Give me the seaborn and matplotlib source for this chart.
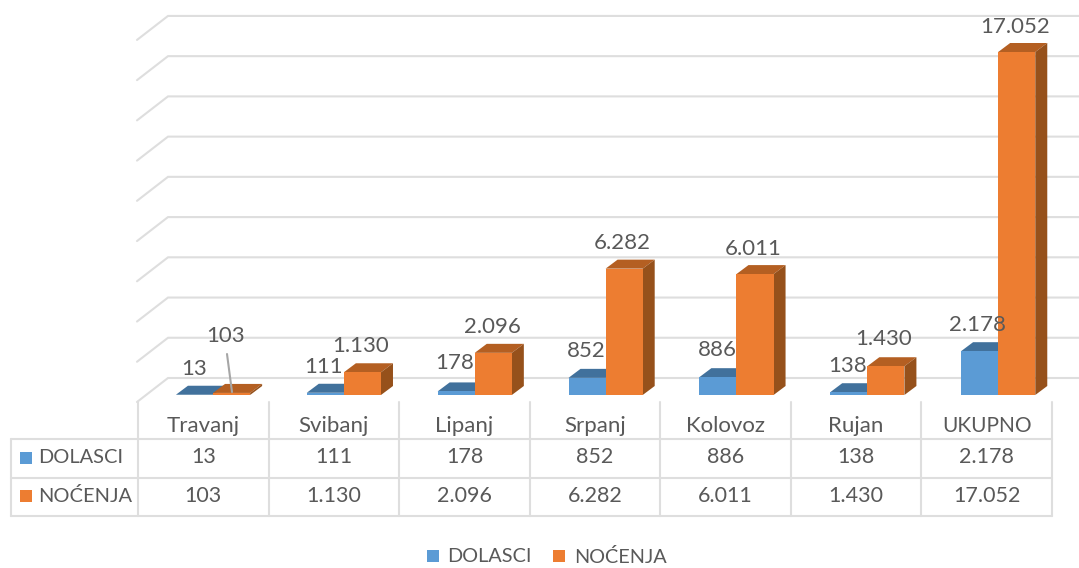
import matplotlib
matplotlib.use('Agg')
import matplotlib.pyplot as plt
import pandas as pd
import seaborn as sns
from matplotlib.patches import Polygon, Rectangle

months = ['Travanj', 'Svibanj', 'Lipanj', 'Srpanj', 'Kolovoz', 'Rujan', 'UKUPNO']
dolasci = [13, 111, 178, 852, 886, 138, 2178]
nocenja = [103, 1130, 2096, 6282, 6011, 1430, 17052]
series_names = ['DOLASCI', 'NOĆENJA']
y_ticks = list(range(0, 20000, 2000))

W, H = 1079, 568
BLUE, ORANGE = '#5B9BD5', '#ED7D31'
TOP = {BLUE: '#41719C', ORANGE: '#B45F22'}
SIDE = {BLUE: '#3A6690', ORANGE: '#96511B'}
GRID = '#DEDEDE'
TEXT = '#595959'
FS = 16

# label centres in pixels, same order as the data
dolasci_pos = [(194, 369), (324, 367), (455, 363), (586, 351), (717, 350), (848, 366), (977, 325)]
nocenja_pos = [(226, 336), (361, 346), (492, 327), (622, 243), (753, 249), (884, 339), (1015, 27)]

sns.set_theme(style='white')
plt.rcParams['font.family'] = ['Lato', 'DejaVu Sans']

fig = plt.figure(figsize=(W / 100, H / 100), dpi=100)

# furniture axes in pixel coordinates
pix = fig.add_axes([0, 0, 1, 1], zorder=1)
pix.set_xlim(0, W)
pix.set_ylim(H, 0)
pix.axis('off')

# data axes, front plane of the bars
BASE_Y, PX_PER_UNIT = 395, 343 / 17052
AX_LEFT, AX_W = 147.6, 916
ax_h = 18000 * PX_PER_UNIT
ax = fig.add_axes([AX_LEFT / W, (H - BASE_Y) / H, AX_W / W, ax_h / H], zorder=2)
ax.patch.set_alpha(0)

df = pd.DataFrame({
    'month': months * 2,
    'series': [series_names[0]] * len(months) + [series_names[1]] * len(months),
    'value': dolasci + nocenja,
})
sns.barplot(data=df, x='month', y='value', hue='series', order=months, hue_order=series_names,
            palette=[BLUE, ORANGE], saturation=1, width=0.567, dodge=True, legend=False,
            linewidth=0, ax=ax)
ax.set_xlim(-0.5, 6.5)
ax.set_ylim(0, 18000)
ax.axis('off')

# floor, wall gridlines
DEPTH_X, DEPTH_Y = 31, 24
for v in y_ticks:
    y = 378 - v * PX_PER_UNIT
    pix.plot([137, 137 + DEPTH_X, W], [y + DEPTH_Y, y, y], color=GRID, lw=1.5, solid_joinstyle='miter')

# 3d faces of the bars
dx_u = 12 / (AX_W / 7)
dy_u = 9 / PX_PER_UNIT
for i, container in enumerate(ax.containers):
    col = [BLUE, ORANGE][i]
    for bar in container:
        x0, w, h = bar.get_x(), bar.get_width(), bar.get_height()
        x1 = x0 + w
        bar.set_zorder(3 + 2 * i)
        ax.add_patch(Polygon([(x0, h), (x1, h), (x1 + dx_u, h + dy_u), (x0 + dx_u, h + dy_u)],
                             fc=TOP[col], ec='none', zorder=2 + 2 * i, clip_on=False))
        ax.add_patch(Polygon([(x1, 0), (x1 + dx_u, dy_u), (x1 + dx_u, h + dy_u), (x1, h)],
                             fc=SIDE[col], ec='none', zorder=2 + 2 * i, clip_on=False))


def fmt(v):
    return f'{v:,}'.replace(',', '.')


# data labels
for vals, positions in zip([dolasci, nocenja], [dolasci_pos, nocenja_pos]):
    for v, (px, py) in zip(vals, positions):
        ax.text(px, py, fmt(v), transform=pix.transData, ha='center', va='center',
                fontsize=FS, color=TEXT, zorder=10, clip_on=False)
# leader line for the small Travanj value
ax.plot([227, 232], [354, 392], transform=pix.transData, color='#A6A6A6', lw=1.5, zorder=9, clip_on=False)

# data table
col_edges = [138 + i * (1052 - 138) / 7 for i in range(8)]
row_y = [439, 478, 516]
for y in row_y:
    pix.plot([11, 1052], [y, y], color=GRID, lw=1.5)
pix.plot([11, 11], [439, 516], color=GRID, lw=1.5)
for x in col_edges:
    pix.plot([x, x], [402, 516], color=GRID, lw=1.5)

for i, m in enumerate(months):
    cx = (col_edges[i] + col_edges[i + 1]) / 2
    pix.text(cx, 425.5, m, ha='center', va='center', fontsize=15 if m == 'UKUPNO' else 16, color=TEXT)
    pix.text(cx, 457, fmt(dolasci[i]), ha='center', va='center', fontsize=15.5, color=TEXT)
    pix.text(cx, 496, fmt(nocenja[i]), ha='center', va='center', fontsize=15.5, color=TEXT)

for name, col, y in zip(series_names, [BLUE, ORANGE], [457.5, 496]):
    pix.add_patch(Rectangle((20, y - 6), 12, 12, fc=col, ec='none'))
    pix.text(38, y, name, ha='left', va='center', fontsize=14.4, color=TEXT)

# legend
for name, col, sx, tx in zip(series_names, [BLUE, ORANGE], [427, 553], [447, 574]):
    pix.add_patch(Rectangle((sx, 550), 12, 12, fc=col, ec='none'))
    pix.text(tx, 557, name, ha='left', va='center', fontsize=14.3, color=TEXT)

fig.savefig('out.png', dpi=100, facecolor='white')
